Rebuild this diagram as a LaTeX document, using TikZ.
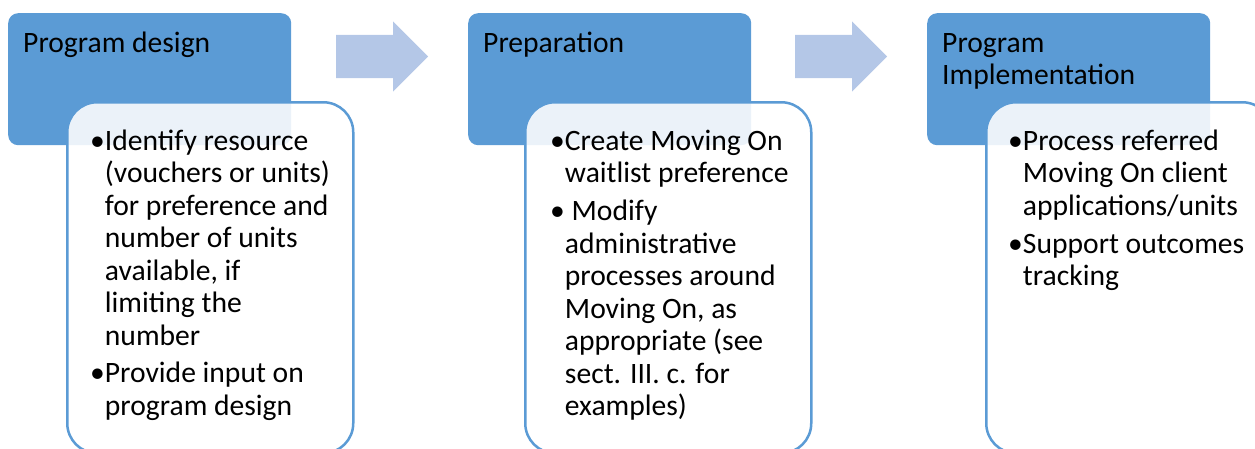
\documentclass[tikz,border=0pt]{standalone}
\usepackage{fontspec}
\setmainfont{Carlito}
\usetikzlibrary{shapes.arrows}
\definecolor{hdrblue}{HTML}{5B9BD5}
\definecolor{arrowblue}{HTML}{B4C7E7}
\newlength\bulw
% one bulleted paragraph; continuation lines hang under the text
\newcommand\bulpar[1]{{\let\\\newline
  \settowidth{\bulw}{\textbullet}\hangindent=\bulw\hangafter=1
  \noindent\textbullet #1\par}}
\begin{document}
\begin{tikzpicture}[x=1pt,y=-1pt,
  header/.style={fill=hdrblue, rounded corners=10pt, inner sep=0pt,
    minimum width=283pt, minimum height=132pt, anchor=north west},
  card/.style={draw=hdrblue, line width=2.5pt, fill=white, fill opacity=0.88,
    rounded corners=30pt, inner sep=0pt, minimum width=286pt,
    minimum height=351pt, anchor=north west},
  flowarrow/.style={single arrow, fill=arrowblue, draw=none, inner sep=0pt,
    inner ysep=21.5pt, minimum width=70pt, minimum height=92pt,
    single arrow head extend=13.5pt, anchor=tail},
  txt/.style={anchor=base west, inner sep=0pt, text=black,
    font=\fontsize{29.6}{32.5}\selectfont}
]
\useasboundingbox (0,0) rectangle (1255,448);
\clip (0,0) rectangle (1255,448);

% flow arrows between the stages
\node[flowarrow] (a1) at (336,56.5) {};
\node[flowarrow] (a2) at (795,56.5) {};

% stage headers
\node[header] (h1) at (8,13) {};
\node[header] (h2) at (468,13) {};
\node[header] (h3) at (927,13) {};

\node[txt] (t1) at ([xshift=15pt,yshift=-39pt]h1.north west) {Program design};
\node[txt] (t2) at ([xshift=15pt,yshift=-39pt]h2.north west) {Preparation};
\node[txt] (t3) at ([xshift=15pt,yshift=-39pt]h3.north west)
  {\parbox[t]{270pt}{Program\\Implementation}};

% detail cards
\node[card] (c1) at (66,101) {};
\node[card] (c2) at (524,101) {};
\node[card] (c3) at (985,101) {};

\node[txt] (d1) at ([xshift=24pt,yshift=-49pt]c1.north west) {\parbox[t]{275pt}{
  \bulpar{Identify resource\\(vouchers or units)\\for preference and\\number of units\\available, if\\limiting the\\number}
  \vspace{5pt}
  \bulpar{Provide input on\\program design}}};

\node[txt] (d2) at ([xshift=26pt,yshift=-49pt]c2.north west) {\parbox[t]{275pt}{
  \bulpar{Create Moving On\\waitlist preference}
  \vspace{5.5pt}
  \bulpar{\ Modify\\administrative\\processes around\\Moving On, as\\appropriate (see\\sect. III. c. for\\examples)}}};

\node[txt] (d3) at ([xshift=23pt,yshift=-49pt]c3.north west) {\parbox[t]{275pt}{
  \bulpar{Process referred\\Moving On client\\applications/units}
  \vspace{5.5pt}
  \bulpar{Support outcomes\\tracking}}};
\end{tikzpicture}
\end{document}
